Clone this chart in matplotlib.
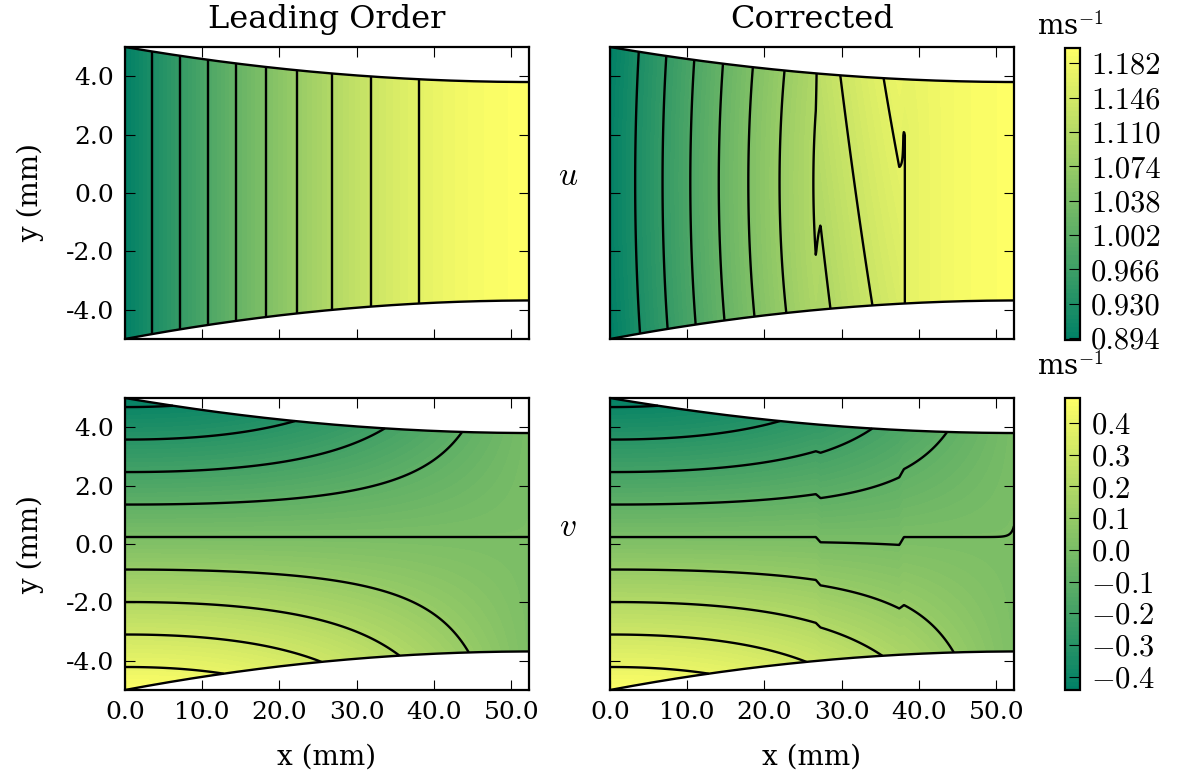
import numpy as np
import matplotlib
matplotlib.use("Agg")
import matplotlib.pyplot as plt

plt.rcParams['font.family'] = ['DejaVu Serif']
plt.rcParams['mathtext.fontset'] = 'cm'
plt.rcParams['axes.unicode_minus'] = False
plt.rcParams['contour.negative_linestyle'] = 'solid'

# channel geometry (mm)
x_max = 52.3
wall_in = 5.0        # top wall height at inlet
wall_out = 3.8       # top wall height at outlet
taper_len = 53.0
bot_ratio = 1.1      # bottom wall closes in 1.1x as much as the top one
u_in = 0.894         # inlet speed, ms^-1
v_scale = 10.57      # v is plotted on a stretched scale

# corrections seen in the right-hand panels
joints = [26.95, 37.75]
joint_width = 0.6
u_bow = 0.02
u_tilt_a = 0.0015
u_tilt_b = 0.02
u_tip_c = 0.0065
u_off_c = -0.0004
v_shift_b = -0.012
v_end = 0.0008

# ticks / levels
x_ticks = [0, 10, 20, 30, 40, 50]
x_ticklabels = ['0.0', '10.0', '20.0', '30.0', '40.0', '50.0']
y_ticks = [4, 2, 0, -2, -4]
y_ticklabels = ['4.0', '2.0', '0.0', '-2.0', '-4.0']
u_range = (0.892, 1.198)
v_range = (-0.442, 0.479)
u_lines = [0.924, 0.954, 0.984, 1.014, 1.044, 1.074, 1.104, 1.134, 1.164]
v_lines = [-0.4, -0.3, -0.2, -0.1, 0.0, 0.1, 0.2, 0.3, 0.4]
u_cbar_ticks = [0.894, 0.930, 0.966, 1.002, 1.038, 1.074, 1.110, 1.146, 1.182]
v_cbar_ticks = [0.4, 0.3, 0.2, 0.1, 0.0, -0.1, -0.2, -0.3, -0.4]


def walls(x):
    s = np.clip(1 - x / taper_len, 0, None)
    top = wall_out + (wall_in - wall_out) * s**2
    dtop = -2 * (wall_in - wall_out) * s / taper_len
    bot = -wall_in + bot_ratio * (wall_in - top)
    dbot = -bot_ratio * dtop
    return top, dtop, bot, dbot


x = np.linspace(0, x_max, 800)
eta = np.linspace(0, 1, 320)
X, E = np.meshgrid(x, eta)
top, dtop, bot, dbot = walls(X)
H = top - bot
Y = bot + E * H

# leading order: plug flow, v from continuity
u_lo = u_in * (2 * wall_in) / H
v_lo = v_scale * u_lo * (dbot + E * (dtop - dbot))


def ramp(x0):
    return np.clip((X - x0) / joint_width + 0.5, 0, 1)


sa, sb = ramp(joints[0]), ramp(joints[1])
in_a, in_b, in_c = 1 - sa, sa - sb, sb

corr = (in_a * (u_bow * (0.125 - (E - 0.5)**2) + u_tilt_a * (E - 0.5))
        + in_b * u_tilt_b * (E - 0.5)
        + in_c * (u_off_c + u_tip_c * np.clip((E - 0.75) / 0.25, 0, 1)
                  * np.exp(-(X - joints[1]) / 1.5)))
u_co = u_lo * (1 + corr)
v_co = (v_lo + in_b * v_shift_b * (1 - 3 * (E - 0.5)**2)
        + v_end * np.exp(-(x_max - X) / 0.8))

fields = [[u_lo, u_co], [v_lo, v_co]]
ranges = [u_range, v_range]
lines = [u_lines, v_lines]

fig = plt.figure(figsize=(11.8, 7.8), dpi=100)
W, Hf = 1180.0, 780.0
lefts = [125, 610]
tops = [47, 398]
aw, ah = 404, 292

xw, _, xb, _ = walls(x)
cfs = []
for r in range(2):
    lv = np.linspace(ranges[r][0], ranges[r][1], 70)
    for c in range(2):
        ax = fig.add_axes([lefts[c] / W, 1 - (tops[r] + ah) / Hf, aw / W, ah / Hf])
        z = np.clip(fields[r][c], lv[0] + 1e-9, lv[-1] - 1e-9)
        cf = ax.contourf(X, Y, z, levels=lv, cmap='summer', antialiased=False)
        ax.contour(X, Y, fields[r][c], levels=lines[r], colors='k', linewidths=1.7)
        ax.plot(x, xw, 'k', lw=1.7)
        ax.plot(x, xb, 'k', lw=1.7)
        ax.set_xlim(0, x_max)
        ax.set_ylim(-5, 5)
        ax.set_xticks(x_ticks)
        ax.set_yticks(y_ticks)
        ax.tick_params(direction='in', top=True, right=True, length=7, width=0.8,
                       pad=8, labelsize=18)
        for sp in ax.spines.values():
            sp.set_linewidth(1.6)
        if r == 1:
            ax.set_xticklabels(x_ticklabels)
            ax.set_xlabel('x (mm)', fontsize=20)
            ax.xaxis.set_label_coords(0.5, -0.185)
        else:
            ax.set_xticklabels([])
        if c == 0:
            ax.set_yticklabels(y_ticklabels)
            ax.set_ylabel('y (mm)', fontsize=20)
            ax.yaxis.set_label_coords(-0.2, 0.5)
        else:
            ax.set_yticklabels([])
        if r == 0:
            ax.set_title(['Leading Order', 'Corrected'][c], fontsize=23, pad=14)
    cfs.append(cf)

fig.text(568 / W, 1 - 185 / Hf, '$u$', fontsize=24, ha='center', va='baseline')
fig.text(568 / W, 1 - 536 / Hf, '$v$', fontsize=24, ha='center', va='baseline')

cb_ticks = [u_cbar_ticks, v_cbar_ticks]
cb_labels = [['%.3f' % t for t in u_cbar_ticks],
             ['$%.1f$' % t for t in v_cbar_ticks]]
cb_tops = [48, 398]
unit_base = [35, 375]
for r in range(2):
    cax = fig.add_axes([1065 / W, 1 - (cb_tops[r] + 292) / Hf, 15 / W, 292 / Hf])
    cb = fig.colorbar(cfs[r], cax=cax, ticks=cb_ticks[r])
    cb.ax.set_yticklabels(cb_labels[r], family='cmr10')
    cb.ax.tick_params(direction='in', length=8, width=0.8, labelsize=22, pad=8)
    cb.outline.set_linewidth(1.6)
    fig.text(1071 / W, 1 - unit_base[r] / Hf, 'ms$^{-1}$', fontsize=20,
             ha='center', va='baseline')

fig.savefig('out.png', dpi=100)
